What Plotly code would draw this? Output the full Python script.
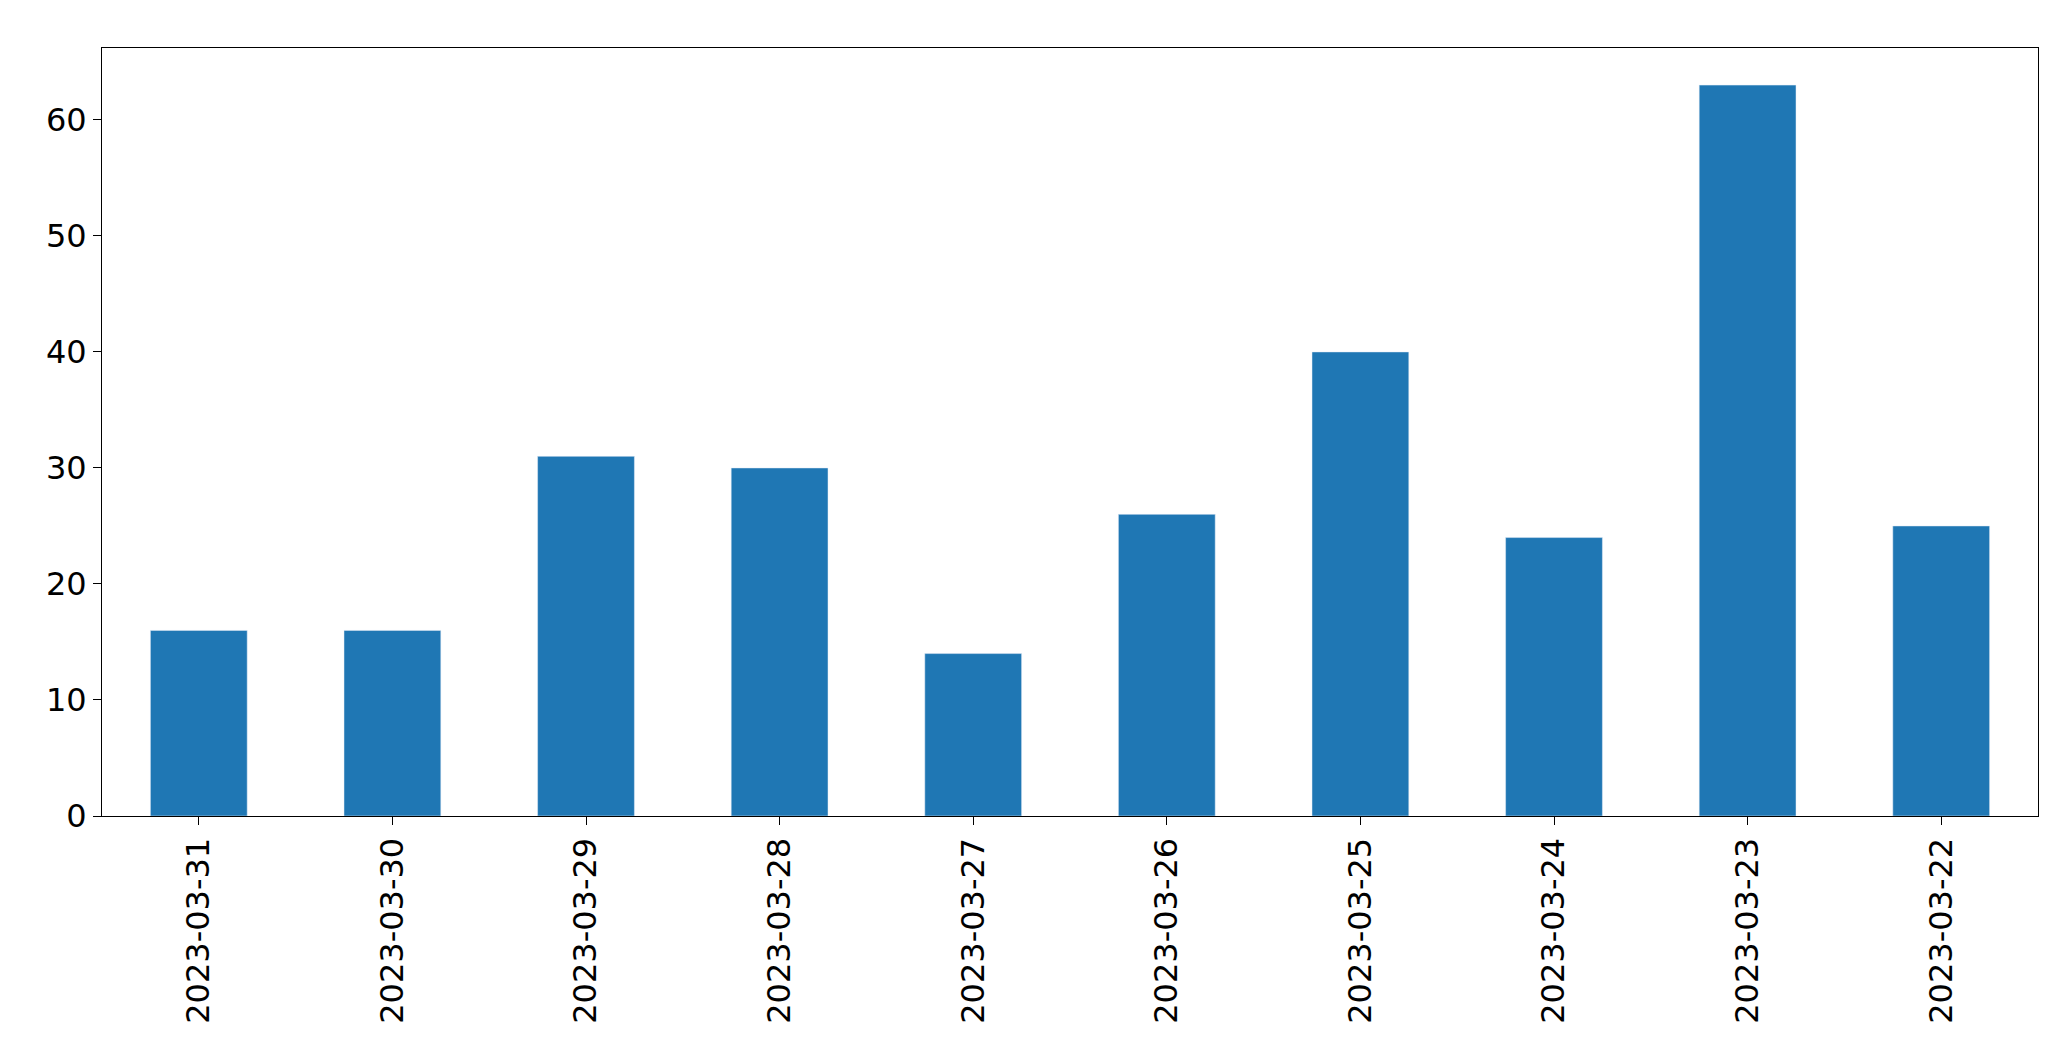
import plotly.graph_objects as go

dates = ["2023-03-31", "2023-03-30", "2023-03-29", "2023-03-28", "2023-03-27",
         "2023-03-26", "2023-03-25", "2023-03-24", "2023-03-23", "2023-03-22"]
counts = [16, 16, 31, 30, 14, 26, 40, 24, 63, 25]

fig = go.Figure(go.Bar(x=dates, y=counts, marker_color="#1f77b4", width=0.5))

axis_style = dict(showline=True, linecolor="black", linewidth=1, mirror=True,
                  ticks="outside", ticklen=8, tickcolor="black", showgrid=False,
                  zeroline=False, tickfont=dict(family="DejaVu Sans", size=32, color="black"))

fig.update_layout(
    width=2071, height=1061,
    plot_bgcolor="white", paper_bgcolor="white",
    margin=dict(l=94, r=41, t=40, b=253),
    showlegend=False,
    xaxis=dict(type="category", tickangle=-90, range=[-0.5, 9.5], **axis_style),
    yaxis=dict(range=[0, 66.2], tickvals=[0, 10, 20, 30, 40, 50, 60], **axis_style),
)

fig.write_html("out.html")
